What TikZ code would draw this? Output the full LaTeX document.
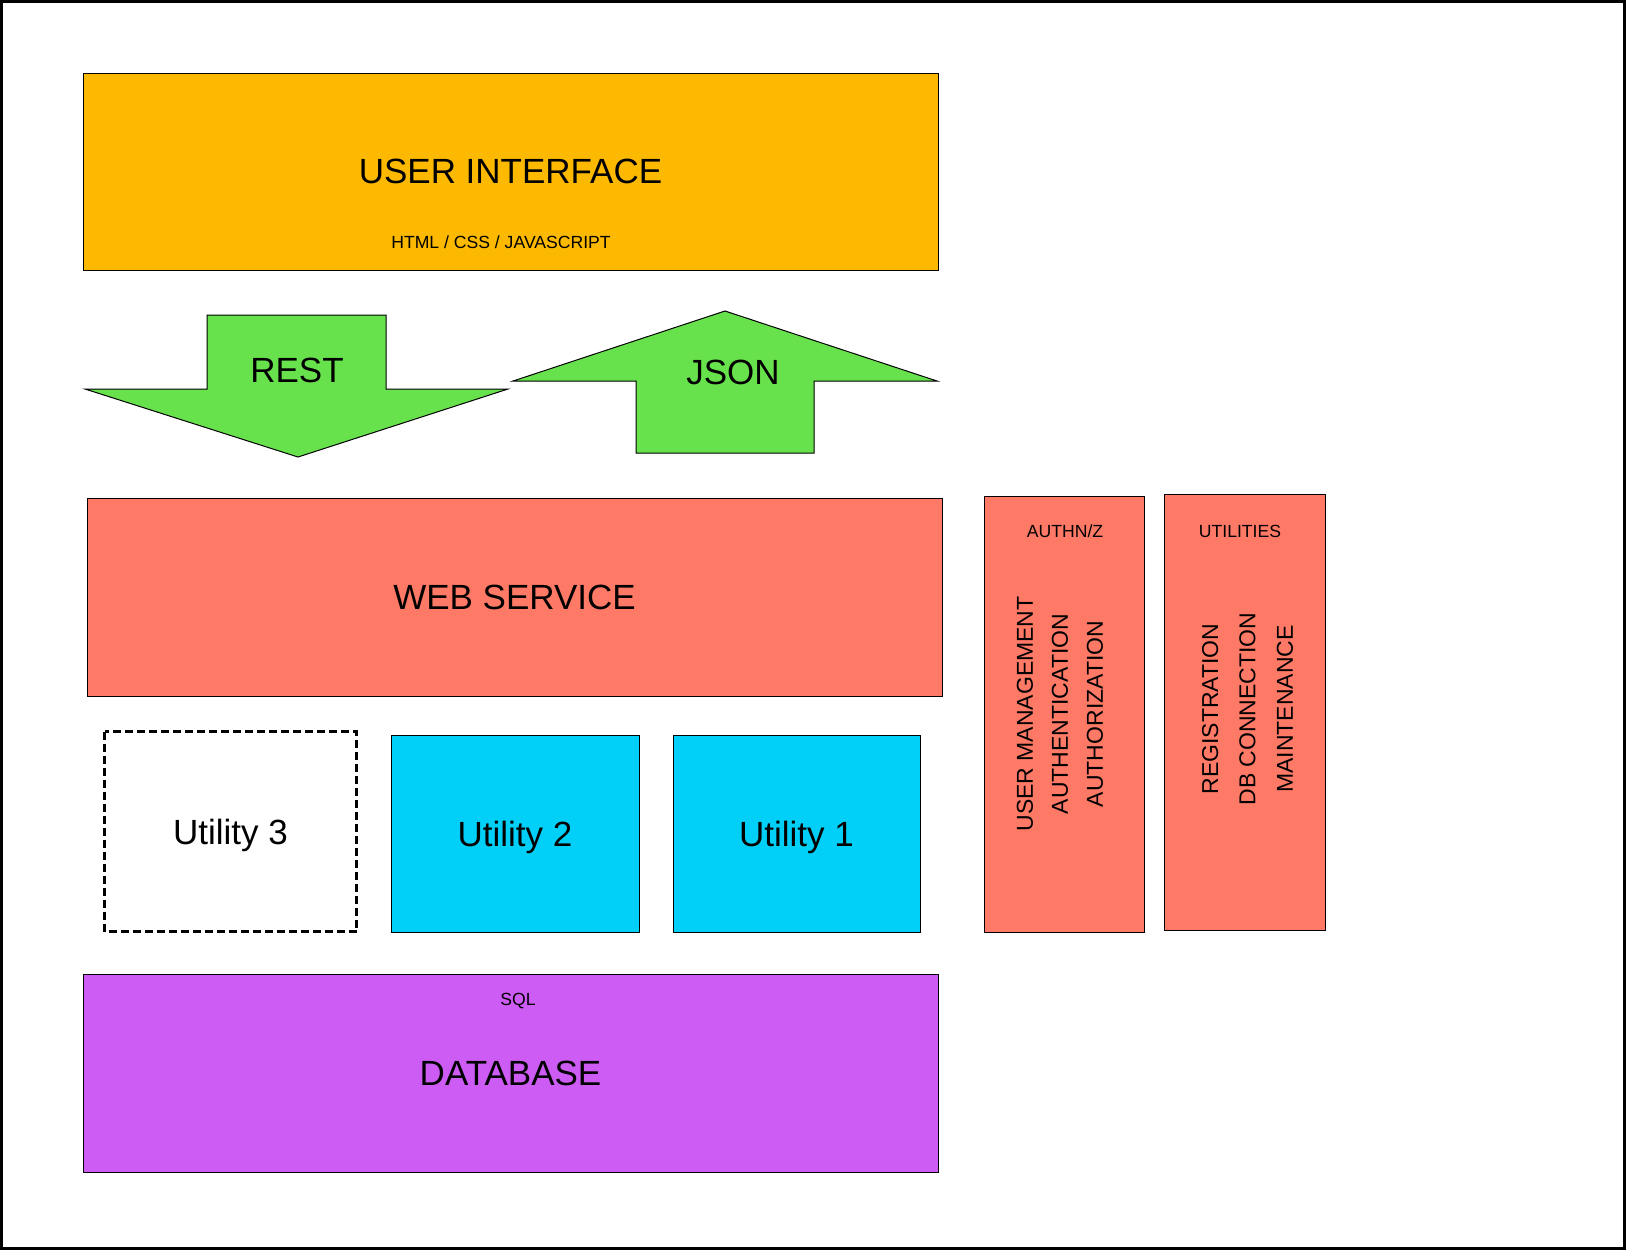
\documentclass[tikz,border=0pt]{standalone}
\usepackage{fontspec}
\setmainfont{Liberation Sans}
\definecolor{uiorange}{RGB}{253,185,0}
\definecolor{arrowgreen}{RGB}{104,226,76}
\definecolor{wssalmon}{RGB}{255,122,102}
\definecolor{utilcyan}{RGB}{0,208,248}
\definecolor{dbpurple}{RGB}{204,92,244}
\tikzset{
    layerbox/.style={draw=black, line width=0.5pt, inner sep=0pt, font=\fontsize{17.5}{21}\selectfont},
    utilbox/.style={layerbox, text depth=0pt, minimum height=98.5pt},
    smalllabel/.style={inner sep=0pt, font=\fontsize{8.8}{10}\selectfont},
    sidelabel/.style={inner sep=0pt, rotate=90, align=center, font=\fontsize{11.5}{17.5}\selectfont},
    biglabel/.style={inner sep=0pt, font=\fontsize{17.5}{21}\selectfont}
}
\begin{document}
\begin{tikzpicture}[x=0.5pt, y=-0.5pt]
    \useasboundingbox (0,0) rectangle (1626,1250);
    \draw[line width=1.5pt] (1.5,1.5) rectangle (1624.5,1248.5);
    % user interface
    \node[layerbox, fill=uiorange, minimum width=427.5pt, minimum height=98.5pt] (ui) at (510.5,171.5) {USER INTERFACE};
    \node[smalllabel] (uitech) at (501,242) {HTML / CSS / JAVASCRIPT};
    % rest and json arrows
    \draw[fill=arrowgreen, line width=0.5pt] (207,315) -- (386,315) -- (386,389) -- (508,389) -- (298,457) -- (85,389) -- (207,389) -- cycle;
    \node[biglabel] (rest) at (297,370) {REST};
    \draw[fill=arrowgreen, line width=0.5pt] (725,311) -- (937,381) -- (814,381) -- (814,453) -- (636,453) -- (636,381) -- (513,381) -- cycle;
    \node[biglabel] (json) at (733,372) {JSON};
    % web service
    \node[layerbox, fill=wssalmon, minimum width=427.5pt, minimum height=99pt] (ws) at (514.5,597) {WEB SERVICE};
    % utilities
    \node[utilbox, draw=none, minimum width=125.5pt, minimum height=99.5pt] (util3) at (230.5,831.5) {Utility 3};
    \draw[line width=1.3pt, dash pattern=on 4pt off 2pt] (util3.north west) rectangle (util3.south east);
    \node[utilbox, fill=utilcyan, minimum width=124pt] (util2) at (515,833.5) {Utility 2};
    \node[utilbox, fill=utilcyan, minimum width=123.5pt] (util1) at (796.5,833.5) {Utility 1};
    % side columns
    \node[layerbox, fill=wssalmon, minimum width=80pt, minimum height=218pt] (authz) at (1064,714) {};
    \node[smalllabel] (authztitle) at (1065,531) {AUTHN/Z};
    \node[sidelabel] (authzlist) at (1060,714) {USER MANAGEMENT\\AUTHENTICATION\\AUTHORIZATION};
    \node[layerbox, fill=wssalmon, minimum width=80.5pt, minimum height=218pt] (utils) at (1244.5,712) {};
    \node[smalllabel] (utilstitle) at (1240,531) {UTILITIES};
    \node[sidelabel, font=\fontsize{11.5}{18.7}\selectfont] (utilslist) at (1247.5,709) {REGISTRATION\\DB CONNECTION\\MAINTENANCE};
    % database
    \node[layerbox, fill=dbpurple, minimum width=427.5pt, minimum height=99pt] (db) at (510.5,1073) {DATABASE};
    \node[smalllabel] (sql) at (518,1000.5) {SQL};
\end{tikzpicture}
\end{document}
